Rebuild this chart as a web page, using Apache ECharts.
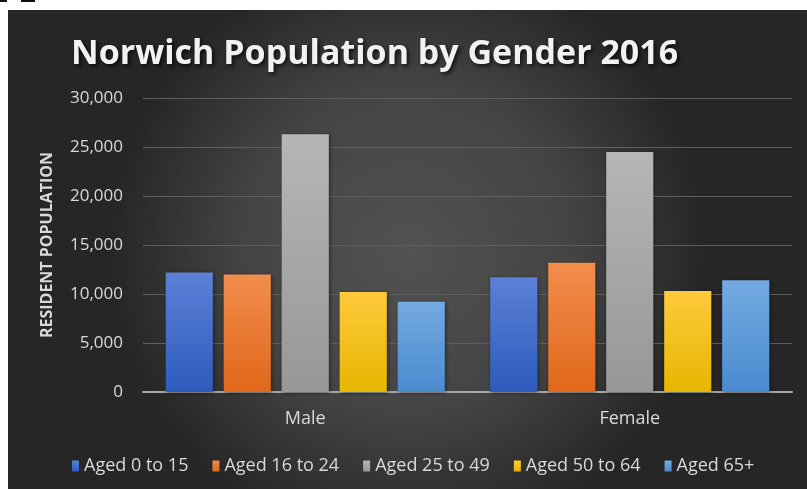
<!DOCTYPE html>
<html>
<head>
<meta charset="utf-8">
<script src="https://cdn.jsdelivr.net/npm/echarts@6/dist/echarts.min.js"></script>
<style>
  html, body { margin: 0; padding: 0; background: #ffffff; }
  #chart { width: 807px; height: 489px; }
</style>
</head>
<body>
<div id="chart"></div>
<script>
// Categories and series data
const genders = ['Male', 'Female'];
const ageGroups = ['Aged 0 to 15', 'Aged 16 to 24', 'Aged 25 to 49', 'Aged 50 to 64', 'Aged 65+'];
const aged0to15 = [12200, 11700];
const aged16to24 = [12000, 13200];
const aged25to49 = [26300, 24500];
const aged50to64 = [10200, 10300];
const aged65plus = [9200, 11400];
const yTicks = [0, 5000, 10000, 15000, 20000, 25000, 30000];

const seriesValues = [aged0to15, aged16to24, aged25to49, aged50to64, aged65plus];
// top / bottom colours of each bar gradient
const barColors = [
  ['#5b81d6', '#2d5bbd'],
  ['#f28d4d', '#e0681a'],
  ['#b6b6b6', '#979797'],
  ['#ffca3c', '#e6b600'],
  ['#74aae2', '#4a8bcf']
];

const chart = echarts.init(document.getElementById('chart'), null, { renderer: 'canvas' });

const font = '"Open Sans", "Noto Sans", sans-serif';

const option = {
  backgroundColor: 'transparent',
  animation: false,
  title: {
    text: 'Norwich Population by Gender 2016',
    left: 66,
    top: 32,
    textStyle: {
      fontFamily: font,
      fontSize: 34,
      fontWeight: 'bold',
      color: '#f2f2f2',
      textShadowColor: 'rgba(0,0,0,0.75)',
      textShadowBlur: 4,
      textShadowOffsetX: 2,
      textShadowOffsetY: 2
    }
  },
  legend: {
    data: ageGroups,
    left: 67,
    top: 452,
    itemWidth: 7,
    itemHeight: 11,
    itemGap: 24,
    icon: 'rect',
    textStyle: { fontFamily: font, fontSize: 18, color: '#d9d9d9' }
  },
  grid: { left: 143, right: 15, top: 98, bottom: 97, containLabel: false },
  xAxis: {
    type: 'category',
    data: genders,
    axisLine: { lineStyle: { color: '#a6a6a6', width: 2 } },
    axisTick: { show: false },
    axisLabel: { fontFamily: font, fontSize: 18, color: '#d9d9d9', margin: 18 }
  },
  yAxis: {
    type: 'value',
    min: yTicks[0],
    max: yTicks[yTicks.length - 1],
    interval: yTicks[1] - yTicks[0],
    name: 'RESIDENT POPULATION',
    nameLocation: 'middle',
    nameGap: 88,
    nameRotate: 90,
    nameTextStyle: { fontFamily: font, fontSize: 16, fontWeight: 'bold', color: '#d9d9d9' },
    axisLine: { show: false },
    axisTick: { show: false },
    axisLabel: {
      fontFamily: font, fontSize: 17, color: '#d9d9d9', margin: 20,
      formatter: v => v.toLocaleString('en-US')
    },
    splitLine: { lineStyle: { color: '#5e5e5e', width: 1 } }
  },
  series: ageGroups.map((name, i) => ({
    name: name,
    type: 'bar',
    data: seriesValues[i],
    barGap: '23%',
    barCategoryGap: '14%',
    itemStyle: {
      color: new echarts.graphic.LinearGradient(0, 0, 0, 1, [
        { offset: 0, color: barColors[i][0] },
        { offset: 1, color: barColors[i][1] }
      ]),
      shadowColor: 'rgba(0,0,0,0.45)',
      shadowBlur: 4,
      shadowOffsetX: 1,
      shadowOffsetY: 1
    }
  })),
  graphic: [
    {
      type: 'rect',
      z: -10,
      silent: true,
      shape: { x: 8, y: 10, width: 799, height: 479 },
      style: {
        fill: new echarts.graphic.RadialGradient(0.5, 0.5, 0.62, [
          { offset: 0, color: '#525252' },
          { offset: 0.55, color: '#444444' },
          { offset: 1, color: '#262626' }
        ])
      }
    },
    { type: 'rect', z: -10, silent: true, shape: { x: 0, y: 0, width: 7, height: 2 }, style: { fill: '#111' } },
    { type: 'rect', z: -10, silent: true, shape: { x: 21, y: 0, width: 14, height: 2 }, style: { fill: '#111' } }
  ]
};

chart.setOption(option);
</script>
</body>
</html>
